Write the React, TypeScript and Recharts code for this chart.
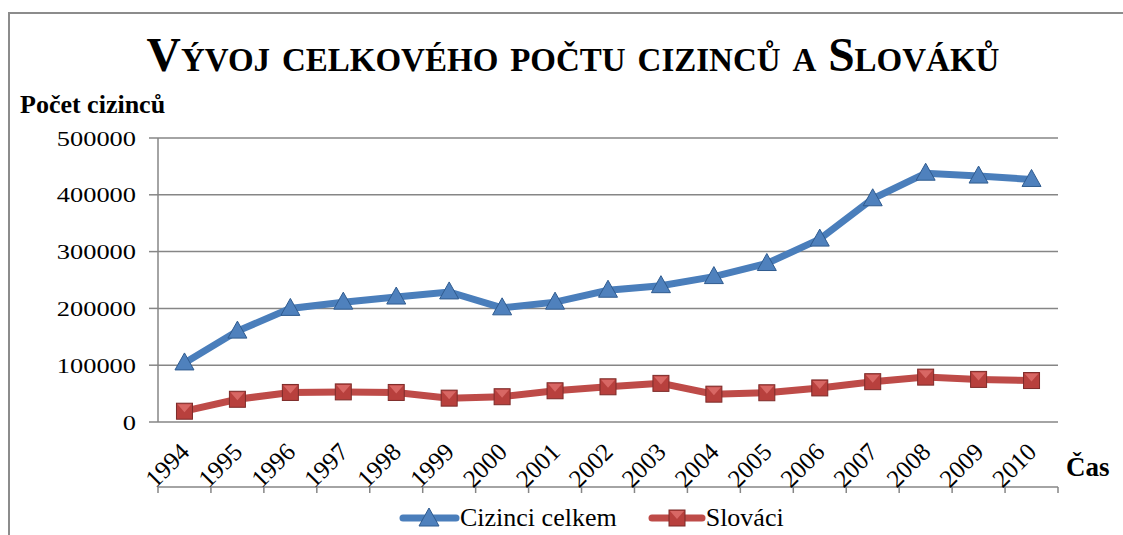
import React from 'react';
import { LineChart, Line, XAxis, YAxis, CartesianGrid, Legend } from 'recharts';

const years = ['1994','1995','1996','1997','1998','1999','2000','2001','2002','2003','2004','2005','2006','2007','2008','2009','2010'];
const cizinciCelkem = [104000,160000,200000,211000,220000,229000,201000,211000,232000,240000,256000,279000,322000,393000,438000,433000,427000];
const slovaci = [19000,40000,52000,53000,52000,42000,44500,55000,62000,68000,49000,51500,60000,71000,79000,75000,73000];
const yTicks = [0,100000,200000,300000,400000,500000];
const boundaryTicks = Array.from({ length: years.length + 1 }, (_, i) => i);

const data = years.map((y, i) => ({ year: y, idx: i + 0.5, celkem: cizinciCelkem[i], slovaci: slovaci[i] }));

const SERIF = '"Liberation Serif", "Times New Roman", serif';
const BLUE = '#4a7ebb';
const RED = '#be4b48';
const GRID = '#868686';

const TriangleDot = (props: any) => {
  const { cx, cy, index } = props;
  if (cx == null || cy == null) return null;
  return (
    <g key={'t' + index}>
      <polygon points={`${cx},${cy - 10} ${cx - 9.5},${cy + 7} ${cx + 9.5},${cy + 7}`} fill="#4f81bd" stroke="#2f5b8f" strokeWidth={1} />
    </g>
  );
};

const SquareDot = (props: any) => {
  const { cx, cy, index } = props;
  if (cx == null || cy == null) return null;
  return (
    <g key={'s' + index}>
      <rect x={cx - 8} y={cy - 8} width={16} height={16} fill="#b8403d" stroke="#7d2b29" strokeWidth={1} />
      <polygon points={`${cx - 7},${cy - 7} ${cx + 7},${cy - 7} ${cx},${cy + 1}`} fill="#e0716e" opacity={0.8} />
    </g>
  );
};

const XLabelTick = (props: any) => {
  const { x, y, payload } = props;
  const ax = x - 6;
  const ay = y + 11;
  return (
    <text x={ax} y={ay} transform={`rotate(-45, ${ax}, ${ay})`} textAnchor="end" dominantBaseline="hanging"
      fontFamily={SERIF} fontSize={25} fill="#000">
      {payload.value}
    </text>
  );
};

const YLabelTick = (props: any) => {
  const { x, y, payload } = props;
  return (
    <text transform={`translate(${x}, ${y}) scale(1.2, 1)`} x={0} y={0} textAnchor="end" dominantBaseline="central"
      fontFamily={SERIF} fontSize={22} fill="#000">
      {payload.value}
    </text>
  );
};

const LegendContent = () => (
  <div style={{ height: 40, boxSizing: 'border-box', paddingTop: 6, display: 'flex', alignItems: 'center', paddingLeft: 399, fontFamily: SERIF, fontSize: 26, color: '#000' }}>
    <svg width={61} height={24}>
      <line x1={4} y1={12} x2={57} y2={12} stroke={BLUE} strokeWidth={7} strokeLinecap="round" />
      <polygon points="30,2 20,20 40,20" fill="#4f81bd" stroke="#2f5b8f" strokeWidth={1} />
    </svg>
    <span style={{ marginRight: 31 }}>Cizinci celkem</span>
    <svg width={58} height={24}>
      <line x1={4} y1={12} x2={54} y2={12} stroke={RED} strokeWidth={7} strokeLinecap="round" />
      <rect x={21} y={4} width={16} height={16} fill="#b8403d" stroke="#7d2b29" strokeWidth={1} />
      <polygon points="22,5 36,5 29,13" fill="#e0716e" opacity={0.8} />
    </svg>
    <span>Slováci</span>
  </div>
);

export default function App() {
  return (
    <div style={{ position: 'absolute', left: 0, top: 0, width: 1123, height: 535, background: '#fff', overflow: 'hidden' }}>
      <div style={{ position: 'absolute', left: 8, top: 12, width: 1115, height: 523, borderTop: '2px solid #8c8c8c', borderLeft: '2px solid #8c8c8c', boxSizing: 'border-box' }} />
      <LineChart width={1123} height={535} data={data} margin={{ top: 138, right: 65, bottom: 0, left: 0 }}>
        <CartesianGrid xAxisId="labels" vertical={false} stroke={GRID} strokeWidth={1.5} />
        <XAxis xAxisId="labels" dataKey="year" type="category" scale="band" interval={0} axisLine={false} tickLine={false}
          height={65} tick={<XLabelTick />} />
        <XAxis xAxisId="ticks" type="number" dataKey="idx" domain={[0, years.length]} allowDataOverflow ticks={boundaryTicks}
          tickFormatter={() => ''} height={8} tickSize={6} stroke={GRID} strokeWidth={1.5} />
        <YAxis width={158} domain={[0, 500000]} ticks={yTicks} interval={0} tickSize={9} tickMargin={13} stroke={GRID} strokeWidth={1.5}
          tick={<YLabelTick />} />
        <Legend verticalAlign="bottom" height={40} wrapperStyle={{ left: 0, width: 1123 }} content={<LegendContent />} />
        <Line xAxisId="labels" type="linear" dataKey="celkem" name="Cizinci celkem" stroke={BLUE} strokeWidth={7}
          dot={<TriangleDot />} isAnimationActive={false} />
        <Line xAxisId="labels" type="linear" dataKey="slovaci" name="Slováci" stroke={RED} strokeWidth={7}
          dot={<SquareDot />} isAnimationActive={false} />
      </LineChart>
      <div style={{ position: 'absolute', left: 0, width: 1146, top: 29, textAlign: 'center', fontFamily: SERIF, fontWeight: 'bold', fontSize: 47.5, fontVariant: 'small-caps', lineHeight: '52px', color: '#000', whiteSpace: 'nowrap' }}>
        Vývoj celkového počtu cizinců a Slováků
      </div>
      <div style={{ position: 'absolute', left: 20, top: 90, fontFamily: SERIF, fontWeight: 'bold', fontSize: 26, lineHeight: '30px', color: '#000' }}>
        Počet cizinců
      </div>
      <div style={{ position: 'absolute', left: 1066, top: 452, fontFamily: SERIF, fontWeight: 'bold', fontSize: 27, lineHeight: '30px', color: '#000' }}>
        Čas
      </div>
    </div>
  );
}
